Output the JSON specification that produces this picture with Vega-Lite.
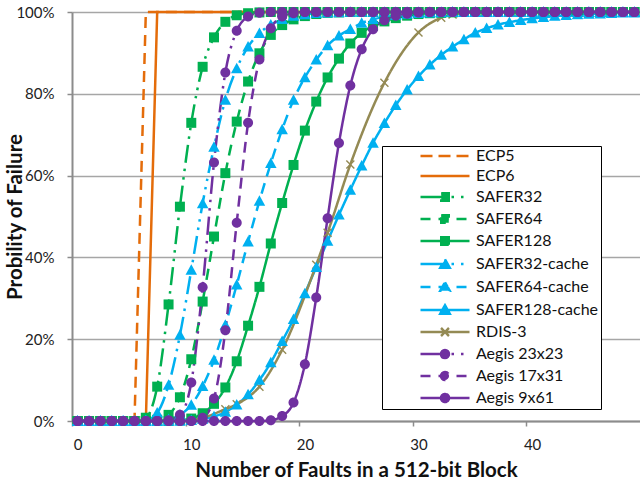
{
"$schema": "https://vega.github.io/schema/vega-lite/v6.json",
"width": 568, "height": 409,
"autosize": {"type": "none"},
"padding": {"left": 72, "top": 12, "right": 0, "bottom": 64},
"background": "white",
"config": {
  "font": "Lato",
  "view": {"stroke": null},
  "axis": {"domainColor": "#8C8C8C", "domainWidth": 2, "tickColor": "#8C8C8C", "tickWidth": 1.5, "tickSize": 5, "labelFont": "Lato", "labelFontSize": 15, "labelColor": "#222222", "titleFont": "Lato", "titleFontSize": 20.5, "titleFontWeight": "bold", "titleColor": "#111111", "labelFlush": false},
  "legend": {"orient": "none", "legendX": 310, "legendY": 134, "padding": 2, "fillColor": "white", "strokeColor": "black", "labelFont": "Lato", "labelFontSize": 16, "labelColor": "#111111", "symbolSize": 100, "symbolStrokeWidth": 2.5, "symbolOffset": 53, "labelOffset": 23, "rowPadding": 4}
},
"data": {"values": [
{"n":0,"ECP5":0,"ECP6":0,"SAFER32":0,"SAFER64":0,"SAFER128":0,"SAFER32-cache":0,"SAFER64-cache":0,"SAFER128-cache":0,"RDIS-3":0,"Aegis 23x23":0,"Aegis 17x31":0,"Aegis 9x61":0},
{"n":1,"ECP5":0,"ECP6":0,"SAFER32":0,"SAFER64":0,"SAFER128":0,"SAFER32-cache":0,"SAFER64-cache":0,"SAFER128-cache":0,"Aegis 23x23":0,"Aegis 17x31":0,"Aegis 9x61":0},
{"n":2,"ECP5":0,"ECP6":0,"SAFER32":0,"SAFER64":0,"SAFER128":0,"SAFER32-cache":0,"SAFER64-cache":0,"SAFER128-cache":0,"Aegis 23x23":0,"Aegis 17x31":0,"Aegis 9x61":0},
{"n":3,"ECP5":0,"ECP6":0,"SAFER32":0,"SAFER64":0,"SAFER128":0,"SAFER32-cache":0,"SAFER64-cache":0,"SAFER128-cache":0,"Aegis 23x23":0,"Aegis 17x31":0,"Aegis 9x61":0},
{"n":4,"ECP5":0,"ECP6":0,"SAFER32":0,"SAFER64":0,"SAFER128":0,"SAFER32-cache":0,"SAFER64-cache":0,"SAFER128-cache":0,"Aegis 23x23":0,"Aegis 17x31":0,"Aegis 9x61":0},
{"n":5,"ECP5":0,"ECP6":0,"SAFER32":0,"SAFER64":0,"SAFER128":0,"SAFER32-cache":0,"SAFER64-cache":0,"SAFER128-cache":0,"RDIS-3":0,"Aegis 23x23":0,"Aegis 17x31":0,"Aegis 9x61":0},
{"n":6,"ECP5":100,"ECP6":0,"SAFER32":0.8,"SAFER64":0,"SAFER128":0,"SAFER32-cache":0.2,"SAFER64-cache":0,"SAFER128-cache":0,"Aegis 23x23":0,"Aegis 17x31":0,"Aegis 9x61":0},
{"n":7,"ECP5":100,"ECP6":100,"SAFER32":8.4,"SAFER64":0.3,"SAFER128":0,"SAFER32-cache":2,"SAFER64-cache":0,"SAFER128-cache":0,"Aegis 23x23":0,"Aegis 17x31":0,"Aegis 9x61":0},
{"n":8,"ECP5":100,"ECP6":100,"SAFER32":28.5,"SAFER64":1.5,"SAFER128":0,"SAFER32-cache":8.8,"SAFER64-cache":0.4,"SAFER128-cache":0,"Aegis 23x23":0.2,"Aegis 17x31":0,"Aegis 9x61":0},
{"n":9,"ECP5":100,"ECP6":100,"SAFER32":52.4,"SAFER64":5.8,"SAFER128":0.2,"SAFER32-cache":21,"SAFER64-cache":1.5,"SAFER128-cache":0,"RDIS-3":0,"Aegis 23x23":1.5,"Aegis 17x31":0,"Aegis 9x61":0},
{"n":10,"ECP5":100,"ECP6":100,"SAFER32":72.9,"SAFER64":15.1,"SAFER128":0.6,"SAFER32-cache":36.9,"SAFER64-cache":3.9,"SAFER128-cache":0.2,"Aegis 23x23":9.4,"Aegis 17x31":0,"Aegis 9x61":0},
{"n":11,"ECP5":100,"ECP6":100,"SAFER32":86.6,"SAFER64":29.2,"SAFER128":1.9,"SAFER32-cache":53.2,"SAFER64-cache":8.5,"SAFER128-cache":0.5,"RDIS-3":0.8,"Aegis 23x23":32.7,"Aegis 17x31":0.8,"Aegis 9x61":0},
{"n":12,"ECP5":100,"ECP6":100,"SAFER32":93.8,"SAFER64":45.1,"SAFER128":4.2,"SAFER32-cache":67,"SAFER64-cache":14.9,"SAFER128-cache":1.1,"Aegis 23x23":63.2,"Aegis 17x31":5.5,"Aegis 9x61":0},
{"n":13,"ECP5":100,"ECP6":100,"SAFER32":97.6,"SAFER64":60.6,"SAFER128":8.2,"SAFER32-cache":78.5,"SAFER64-cache":23.5,"SAFER128-cache":2.2,"RDIS-3":2.9,"Aegis 23x23":85.2,"Aegis 17x31":22.2,"Aegis 9x61":0},
{"n":14,"ECP5":100,"ECP6":100,"SAFER32":99.2,"SAFER64":73.2,"SAFER128":14.6,"SAFER32-cache":86.2,"SAFER64-cache":33.3,"SAFER128-cache":4,"RDIS-3":4.1,"Aegis 23x23":95.4,"Aegis 17x31":48.5,"Aegis 9x61":0},
{"n":15,"ECP5":100,"ECP6":100,"SAFER32":99.7,"SAFER64":83,"SAFER128":23.3,"SAFER32-cache":91.5,"SAFER64-cache":43.8,"SAFER128-cache":6.5,"Aegis 23x23":98.9,"Aegis 17x31":72.9,"Aegis 9x61":0},
{"n":16,"ECP5":100,"ECP6":100,"SAFER32":99.9,"SAFER64":89.9,"SAFER128":32.8,"SAFER32-cache":94.8,"SAFER64-cache":53.8,"SAFER128-cache":10,"RDIS-3":8.4,"Aegis 23x23":99.8,"Aegis 17x31":88.4,"Aegis 9x61":0},
{"n":17,"ECP5":100,"ECP6":100,"SAFER32":100,"SAFER64":94.4,"SAFER128":43.4,"SAFER32-cache":96.9,"SAFER64-cache":63,"SAFER128-cache":14.3,"Aegis 23x23":100,"Aegis 17x31":96,"Aegis 9x61":0.2},
{"n":18,"ECP5":100,"ECP6":100,"SAFER32":100,"SAFER64":96.8,"SAFER128":53.3,"SAFER32-cache":98.2,"SAFER64-cache":71.3,"SAFER128-cache":19.5,"RDIS-3":17.4,"Aegis 23x23":100,"Aegis 17x31":98.9,"Aegis 9x61":1.2},
{"n":19,"ECP5":100,"ECP6":100,"SAFER32":100,"SAFER64":98.2,"SAFER128":62.6,"SAFER32-cache":99,"SAFER64-cache":78.5,"SAFER128-cache":24.9,"Aegis 23x23":100,"Aegis 17x31":99.7,"Aegis 9x61":4.5},
{"n":20,"ECP5":100,"ECP6":100,"SAFER32":100,"SAFER64":99,"SAFER128":71,"SAFER32-cache":99.4,"SAFER64-cache":84,"SAFER128-cache":31.2,"Aegis 23x23":100,"Aegis 17x31":100,"Aegis 9x61":13.9},
{"n":21,"ECP5":100,"ECP6":100,"SAFER32":100,"SAFER64":99.5,"SAFER128":78.1,"SAFER32-cache":99.7,"SAFER64-cache":88.3,"SAFER128-cache":37.6,"RDIS-3":38.2,"Aegis 23x23":100,"Aegis 17x31":100,"Aegis 9x61":30.2},
{"n":22,"ECP5":100,"ECP6":100,"SAFER32":100,"SAFER64":99.8,"SAFER128":84,"SAFER32-cache":99.8,"SAFER64-cache":91.8,"SAFER128-cache":44,"RDIS-3":46,"Aegis 23x23":100,"Aegis 17x31":100,"Aegis 9x61":49.6},
{"n":23,"ECP5":100,"ECP6":100,"SAFER32":100,"SAFER64":99.9,"SAFER128":88.6,"SAFER32-cache":99.9,"SAFER64-cache":94.2,"SAFER128-cache":50.4,"Aegis 23x23":100,"Aegis 17x31":100,"Aegis 9x61":68},
{"n":24,"ECP5":100,"ECP6":100,"SAFER32":100,"SAFER64":100,"SAFER128":92.3,"SAFER32-cache":100,"SAFER64-cache":95.8,"SAFER128-cache":56.5,"RDIS-3":62.7,"Aegis 23x23":100,"Aegis 17x31":100,"Aegis 9x61":82},
{"n":25,"ECP5":100,"ECP6":100,"SAFER32":100,"SAFER64":100,"SAFER128":94.9,"SAFER32-cache":100,"SAFER64-cache":97.3,"SAFER128-cache":62.4,"Aegis 23x23":100,"Aegis 17x31":100,"Aegis 9x61":90.9},
{"n":26,"ECP5":100,"ECP6":100,"SAFER32":100,"SAFER64":100,"SAFER128":96.6,"SAFER32-cache":100,"SAFER64-cache":98.2,"SAFER128-cache":68,"Aegis 23x23":100,"Aegis 17x31":100,"Aegis 9x61":95.8},
{"n":27,"ECP5":100,"ECP6":100,"SAFER32":100,"SAFER64":100,"SAFER128":97.7,"SAFER32-cache":100,"SAFER64-cache":98.8,"SAFER128-cache":72.8,"RDIS-3":82.7,"Aegis 23x23":100,"Aegis 17x31":100,"Aegis 9x61":98},
{"n":28,"ECP5":100,"ECP6":100,"SAFER32":100,"SAFER64":100,"SAFER128":98.5,"SAFER32-cache":100,"SAFER64-cache":99.2,"SAFER128-cache":77.2,"Aegis 23x23":100,"Aegis 17x31":100,"Aegis 9x61":99.1},
{"n":29,"ECP5":100,"ECP6":100,"SAFER32":100,"SAFER64":100,"SAFER128":99.1,"SAFER32-cache":100,"SAFER64-cache":99.5,"SAFER128-cache":81,"Aegis 23x23":100,"Aegis 17x31":100,"Aegis 9x61":99.6},
{"n":30,"ECP5":100,"ECP6":100,"SAFER32":100,"SAFER64":100,"SAFER128":99.5,"SAFER32-cache":100,"SAFER64-cache":99.7,"SAFER128-cache":84.3,"RDIS-3":95,"Aegis 23x23":100,"Aegis 17x31":100,"Aegis 9x61":99.9},
{"n":31,"ECP5":100,"ECP6":100,"SAFER32":100,"SAFER64":100,"SAFER128":99.7,"SAFER32-cache":100,"SAFER64-cache":99.8,"SAFER128-cache":87.1,"Aegis 23x23":100,"Aegis 17x31":100,"Aegis 9x61":100},
{"n":32,"ECP5":100,"ECP6":100,"SAFER32":100,"SAFER64":100,"SAFER128":99.8,"SAFER32-cache":100,"SAFER64-cache":99.9,"SAFER128-cache":89.5,"RDIS-3":98.6,"Aegis 23x23":100,"Aegis 17x31":100,"Aegis 9x61":100},
{"n":33,"ECP5":100,"ECP6":100,"SAFER32":100,"SAFER64":100,"SAFER128":99.9,"SAFER32-cache":100,"SAFER64-cache":100,"SAFER128-cache":91.5,"RDIS-3":99.4,"Aegis 23x23":100,"Aegis 17x31":100,"Aegis 9x61":100},
{"n":34,"ECP5":100,"ECP6":100,"SAFER32":100,"SAFER64":100,"SAFER128":100,"SAFER32-cache":100,"SAFER64-cache":100,"SAFER128-cache":93.3,"Aegis 23x23":100,"Aegis 17x31":100,"Aegis 9x61":100},
{"n":35,"ECP5":100,"ECP6":100,"SAFER32":100,"SAFER64":100,"SAFER128":100,"SAFER32-cache":100,"SAFER64-cache":100,"SAFER128-cache":94.9,"Aegis 23x23":100,"Aegis 17x31":100,"Aegis 9x61":100},
{"n":36,"ECP5":100,"ECP6":100,"SAFER32":100,"SAFER64":100,"SAFER128":100,"SAFER32-cache":100,"SAFER64-cache":100,"SAFER128-cache":96,"RDIS-3":100,"Aegis 23x23":100,"Aegis 17x31":100,"Aegis 9x61":100},
{"n":37,"ECP5":100,"ECP6":100,"SAFER32":100,"SAFER64":100,"SAFER128":100,"SAFER32-cache":100,"SAFER64-cache":100,"SAFER128-cache":96.9,"Aegis 23x23":100,"Aegis 17x31":100,"Aegis 9x61":100},
{"n":38,"ECP5":100,"ECP6":100,"SAFER32":100,"SAFER64":100,"SAFER128":100,"SAFER32-cache":100,"SAFER64-cache":100,"SAFER128-cache":97.5,"Aegis 23x23":100,"Aegis 17x31":100,"Aegis 9x61":100},
{"n":39,"ECP5":100,"ECP6":100,"SAFER32":100,"SAFER64":100,"SAFER128":100,"SAFER32-cache":100,"SAFER64-cache":100,"SAFER128-cache":98,"Aegis 23x23":100,"Aegis 17x31":100,"Aegis 9x61":100},
{"n":40,"ECP5":100,"ECP6":100,"SAFER32":100,"SAFER64":100,"SAFER128":100,"SAFER32-cache":100,"SAFER64-cache":100,"SAFER128-cache":98.4,"RDIS-3":100,"Aegis 23x23":100,"Aegis 17x31":100,"Aegis 9x61":100},
{"n":41,"ECP5":100,"ECP6":100,"SAFER32":100,"SAFER64":100,"SAFER128":100,"SAFER32-cache":100,"SAFER64-cache":100,"SAFER128-cache":98.7,"Aegis 23x23":100,"Aegis 17x31":100,"Aegis 9x61":100},
{"n":42,"ECP5":100,"ECP6":100,"SAFER32":100,"SAFER64":100,"SAFER128":100,"SAFER32-cache":100,"SAFER64-cache":100,"SAFER128-cache":99,"Aegis 23x23":100,"Aegis 17x31":100,"Aegis 9x61":100},
{"n":43,"ECP5":100,"ECP6":100,"SAFER32":100,"SAFER64":100,"SAFER128":100,"SAFER32-cache":100,"SAFER64-cache":100,"SAFER128-cache":99.2,"Aegis 23x23":100,"Aegis 17x31":100,"Aegis 9x61":100},
{"n":44,"ECP5":100,"ECP6":100,"SAFER32":100,"SAFER64":100,"SAFER128":100,"SAFER32-cache":100,"SAFER64-cache":100,"SAFER128-cache":99.4,"Aegis 23x23":100,"Aegis 17x31":100,"Aegis 9x61":100},
{"n":45,"ECP5":100,"ECP6":100,"SAFER32":100,"SAFER64":100,"SAFER128":100,"SAFER32-cache":100,"SAFER64-cache":100,"SAFER128-cache":99.5,"RDIS-3":100,"Aegis 23x23":100,"Aegis 17x31":100,"Aegis 9x61":100},
{"n":46,"ECP5":100,"ECP6":100,"SAFER32":100,"SAFER64":100,"SAFER128":100,"SAFER32-cache":100,"SAFER64-cache":100,"SAFER128-cache":99.6,"Aegis 23x23":100,"Aegis 17x31":100,"Aegis 9x61":100},
{"n":47,"ECP5":100,"ECP6":100,"SAFER32":100,"SAFER64":100,"SAFER128":100,"SAFER32-cache":100,"SAFER64-cache":100,"SAFER128-cache":99.7,"Aegis 23x23":100,"Aegis 17x31":100,"Aegis 9x61":100},
{"n":48,"ECP5":100,"ECP6":100,"SAFER32":100,"SAFER64":100,"SAFER128":100,"SAFER32-cache":100,"SAFER64-cache":100,"SAFER128-cache":99.8,"Aegis 23x23":100,"Aegis 17x31":100,"Aegis 9x61":100},
{"n":49,"ECP5":100,"ECP6":100,"SAFER32":100,"SAFER64":100,"SAFER128":100,"SAFER32-cache":100,"SAFER64-cache":100,"SAFER128-cache":99.8,"RDIS-3":100,"Aegis 23x23":100,"Aegis 17x31":100,"Aegis 9x61":100}
]},
"transform": [
  {"fold": ["ECP5","ECP6","SAFER32","SAFER64","SAFER128","SAFER32-cache","SAFER64-cache","SAFER128-cache","RDIS-3","Aegis 23x23","Aegis 17x31","Aegis 9x61"], "as": ["series","p"]},
  {"filter": "isValid(datum.p)"}
],
"encoding": {
  "x": {"field": "n", "type": "quantitative", "scale": {"domain": [-0.5, 49.5], "nice": false, "zero": false},
        "axis": {"values": [0,10,20,30,40], "grid": false, "tickOffset": -5.68, "labelOffset": 5.68, "labelPadding": 11, "title": "Number of Faults in a 512-bit Block", "titleBaseline": "alphabetic", "titleY": 55}},
  "y": {"field": "p", "type": "quantitative", "scale": {"domain": [0, 100], "nice": false},
        "axis": {"values": [0,20,40,60,80,100], "labelExpr": "datum.value + '%'", "grid": true, "gridColor": "#A6A6A6", "gridWidth": 1.5, "labelPadding": 13, "title": "Probility of Failure", "titleBaseline": "alphabetic", "titleX": -51}}
},
"layer": [
  {"transform": [{"filter": "datum.series == 'ECP5' || datum.series == 'ECP6'"}],
   "mark": {"type": "line", "strokeWidth": 2.5, "interpolate": "linear"},
   "encoding": {
     "color": {"field": "series", "type": "nominal", "legend": null, "scale": {"domain": ["ECP5","ECP6","SAFER32","SAFER64","SAFER128","SAFER32-cache","SAFER64-cache","SAFER128-cache","RDIS-3","Aegis 23x23","Aegis 17x31","Aegis 9x61"], "range": ["#E46C0A","#E46C0A","#00B050","#00B050","#00B050","#00B0F0","#00B0F0","#00B0F0","#948A54","#7030A0","#7030A0","#7030A0"]}},
     "strokeDash": {"field": "series", "type": "nominal", "legend": null, "scale": {"domain": ["ECP5","ECP6"], "range": [[11,7],[1,0]]}}
   }},
  {"transform": [{"filter": "datum.series != 'ECP5' && datum.series != 'ECP6'"}],
   "mark": {"type": "line", "strokeWidth": 2.5, "interpolate": "monotone"},
   "encoding": {
     "color": {"field": "series", "type": "nominal", "legend": null},
     "strokeDash": {"field": "series", "type": "nominal", "legend": null, "scale": {"domain": ["SAFER32","SAFER64","SAFER128","SAFER32-cache","SAFER64-cache","SAFER128-cache","RDIS-3","Aegis 23x23","Aegis 17x31","Aegis 9x61"], "range": [[18,6,2.5,6,2.5,6],[11,7],[1,0],[18,6,2.5,6,2.5,6],[11,7],[1,0],[1,0],[18,6,2.5,6,2.5,6],[11,7],[1,0]]}}
   }},
  {"transform": [{"filter": "datum.series == 'RDIS-3'"}],
   "mark": {"type": "point", "shape": "M-0.8,-0.8L0.8,0.8M-0.8,0.8L0.8,-0.8", "filled": false, "size": 100, "strokeWidth": 1.4, "opacity": 1, "color": "#948A54"}},
  {"transform": [{"filter": "datum.series != 'ECP5' && datum.series != 'ECP6' && datum.series != 'RDIS-3'"}],
   "mark": {"type": "point", "filled": true, "size": 100, "opacity": 1},
   "encoding": {
     "color": {"field": "series", "type": "nominal", "legend": null},
     "shape": {"field": "series", "type": "nominal", "legend": null, "scale": {"domain": ["SAFER32","SAFER64","SAFER128","SAFER32-cache","SAFER64-cache","SAFER128-cache","Aegis 23x23","Aegis 17x31","Aegis 9x61"], "range": ["M-1,-1H1V1H-1Z","M-1,-1H1V1H-1Z","M-1,-1H1V1H-1Z","M0,-1.15L1.15,0.95H-1.15Z","M0,-1.15L1.15,0.95H-1.15Z","M0,-1.15L1.15,0.95H-1.15Z","M-1,0A1,1,0,1,1,1,0A1,1,0,1,1,-1,0Z","M-1,0A1,1,0,1,1,1,0A1,1,0,1,1,-1,0Z","M-1,0A1,1,0,1,1,1,0A1,1,0,1,1,-1,0Z"]}}
   }},
  {"transform": [{"filter": "datum.n < 0"}],
   "mark": {"type": "point", "filled": true, "size": 100, "opacity": 1, "strokeWidth": 2.5},
   "encoding": {
     "fill": {"field": "series", "type": "nominal", "legend": {"title": null, "labelExpr": "datum.label + '\u2003\u2002\u2009\u2009'"}, "scale": {"domain": ["ECP5","ECP6","SAFER32","SAFER64","SAFER128","SAFER32-cache","SAFER64-cache","SAFER128-cache","RDIS-3","Aegis 23x23","Aegis 17x31","Aegis 9x61"], "range": ["#E46C0A","#E46C0A","#00B050","#00B050","#00B050","#00B0F0","#00B0F0","#00B0F0","#948A54","#7030A0","#7030A0","#7030A0"]}},
     "stroke": {"field": "series", "type": "nominal", "legend": {"title": null, "labelExpr": "datum.label + '\u2003\u2002\u2009\u2009'"}, "scale": {"domain": ["ECP5","ECP6","SAFER32","SAFER64","SAFER128","SAFER32-cache","SAFER64-cache","SAFER128-cache","RDIS-3","Aegis 23x23","Aegis 17x31","Aegis 9x61"], "range": ["#E46C0A","#E46C0A","#00B050","#00B050","#00B050","#00B0F0","#00B0F0","#00B0F0","#948A54","#7030A0","#7030A0","#7030A0"]}},
     "shape": {"field": "series", "type": "nominal", "legend": {"title": null, "labelExpr": "datum.label + '\u2003\u2002\u2009\u2009'"}, "scale": {"domain": ["ECP5","ECP6","SAFER32","SAFER64","SAFER128","SAFER32-cache","SAFER64-cache","SAFER128-cache","RDIS-3","Aegis 23x23","Aegis 17x31","Aegis 9x61"], "range": ["M-4.9,0H4.9","M-4.9,0H4.9","M-4.9,0H4.9M-0.75,-0.75H0.75V0.75H-0.75Z","M-4.9,0H4.9M-0.75,-0.75H0.75V0.75H-0.75Z","M-4.9,0H4.9M-0.75,-0.75H0.75V0.75H-0.75Z","M-4.9,0H4.9M0,-0.95L0.95,0.75H-0.95Z","M-4.9,0H4.9M0,-0.95L0.95,0.75H-0.95Z","M-4.9,0H4.9M0,-0.95L0.95,0.75H-0.95Z","M-4.9,0H4.9M-0.8,-0.8L0.8,0.8M-0.8,0.8L0.8,-0.8","M-4.9,0H4.9M-0.8,0A0.8,0.8,0,1,1,0.8,0A0.8,0.8,0,1,1,-0.8,0Z","M-4.9,0H4.9M-0.8,0A0.8,0.8,0,1,1,0.8,0A0.8,0.8,0,1,1,-0.8,0Z","M-4.9,0H4.9M-0.8,0A0.8,0.8,0,1,1,0.8,0A0.8,0.8,0,1,1,-0.8,0Z"]}},
     "strokeDash": {"field": "series", "type": "nominal", "legend": {"title": null, "labelExpr": "datum.label + '\u2003\u2002\u2009\u2009'"}, "scale": {"domain": ["ECP5","ECP6","SAFER32","SAFER64","SAFER128","SAFER32-cache","SAFER64-cache","SAFER128-cache","RDIS-3","Aegis 23x23","Aegis 17x31","Aegis 9x61"], "range": [[12,6],[1,0],[24,7,2.5,7,2.5,7],[10,8],[1,0],[24,7,2.5,7,2.5,7],[10,8],[1,0],[1,0],[24,7,2.5,7,2.5,7],[10,8],[1,0]]}}
   }}
],
"resolve": {"scale": {"shape": "independent", "strokeDash": "independent", "fill": "independent", "stroke": "independent"}}
}
